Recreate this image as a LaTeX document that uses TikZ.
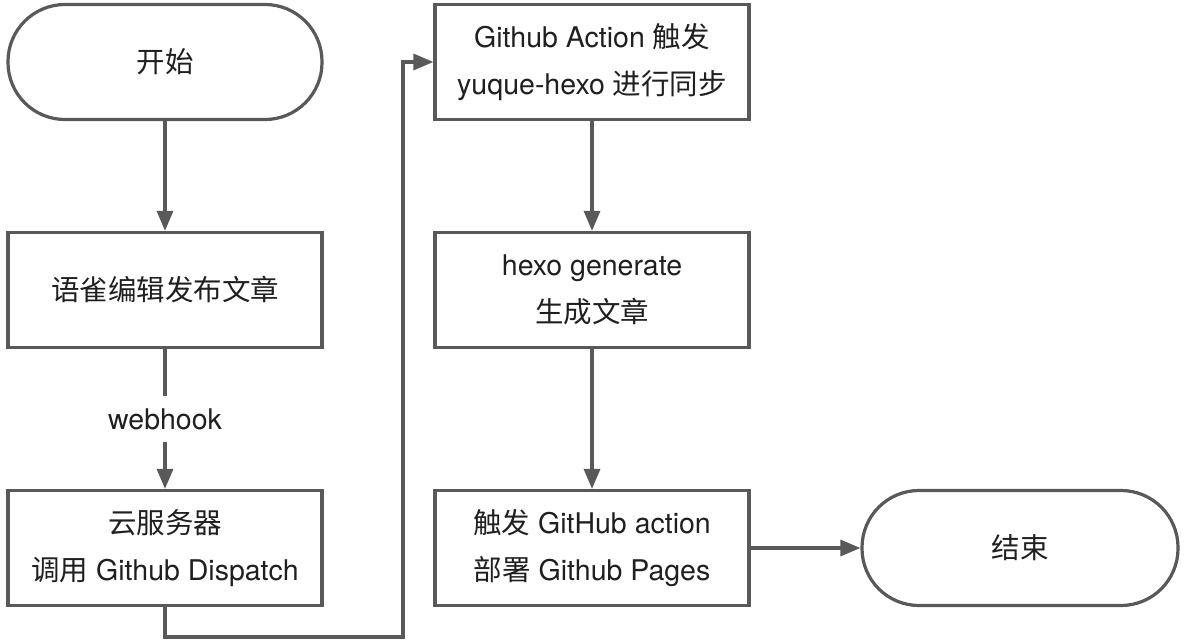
\documentclass[tikz,border=0pt]{standalone}
\usepackage{fontspec}
\setmainfont{TeX Gyre Heros}
\newfontfamily\cjk{Noto Sans CJK SC}
\usetikzlibrary{arrows.meta}
\definecolor{linec}{HTML}{595959}
\definecolor{txtc}{HTML}{1F1F1F}
\begin{document}
\begin{tikzpicture}[x=1pt,y=-1pt,
 txt/.style={text=txtc, font=\fontsize{28.5}{47}\selectfont},
 box/.style={txt, draw=linec, line width=3.2pt, minimum width=314pt, minimum height=115pt, align=center, inner sep=0pt},
 term/.style={box, rounded corners=57pt},
 conn/.style={draw=linec, line width=3.2pt, -{Triangle[length=20pt,width=16pt]}}]
\useasboundingbox[fill=white] (0,0) rectangle (1190,644);
\node[term] (start) at (165,62) {{\cjk 开始}};
\node[box] (edit) at (165,290) {{\cjk 语雀编辑发布文章}};
\node[box] (cloud) at (165,548) {{\cjk 云服务器}\\{\cjk 调用} Github Dispatch};
\node[box] (gha) at (592,62) {Github Action {\cjk 触发}\\yuque-hexo {\cjk 进行同步}};
\node[box] (gen) at (592,290) {hexo generate\\{\cjk 生成文章}};
\node[box] (deploy) at (592,548) {{\cjk 触发} GitHub action\\{\cjk 部署} Github Pages};
\node[term, minimum width=316pt] (end) at (1020,548) {{\cjk 结束}};
\coordinate (turn) at (403,637);
\draw[conn] (start) -- (edit);
\draw[conn] (edit) -- node[txt, fill=white, inner xsep=4pt, inner ysep=12pt] (wh) {webhook} (cloud);
\draw[conn] (cloud.south) |- (turn) |- (gha.west);
\draw[conn] (gha) -- (gen);
\draw[conn] (gen) -- (deploy);
\draw[conn] (deploy) -- (end);
\end{tikzpicture}
\end{document}
